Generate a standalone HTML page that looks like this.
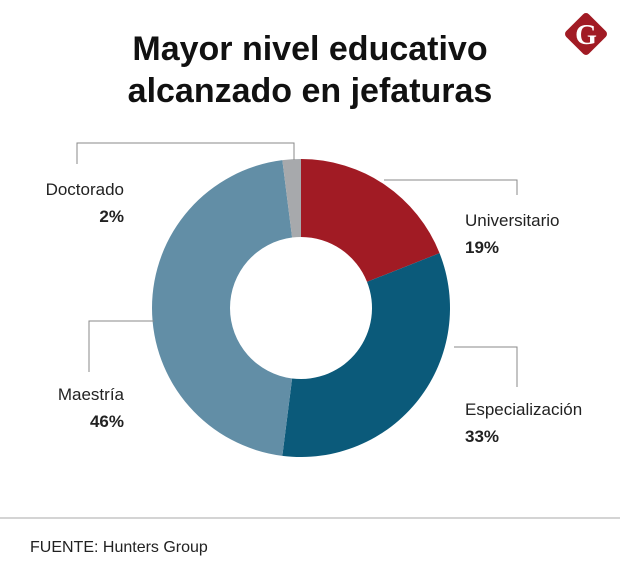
<!DOCTYPE html>
<html><head><meta charset="utf-8"><style>
body{margin:0;background:#fff;}
svg{display:block;font-family:"Liberation Sans",sans-serif;}
</style></head><body>
<svg id="chart" width="620" height="583" viewBox="0 0 620 583">
<text x="310" y="60" text-anchor="middle" font-size="34" font-weight="bold" fill="#111">Mayor nivel educativo</text>
<text x="310" y="102" text-anchor="middle" font-size="34" font-weight="bold" fill="#111">alcanzado en jefaturas</text>
<g>
<rect x="570" y="18" width="32" height="32" rx="4" transform="rotate(45 586 34)" fill="#a11b24"/>
<text x="586" y="44" text-anchor="middle" font-size="28" font-weight="bold" fill="#fff" font-family="Liberation Serif,serif">G</text>
</g>
<g id="slices"></g>
<g id="leaders" stroke="#888" stroke-width="1" fill="none"></g>
<g id="labels"></g>
<line x1="0" y1="518" x2="620" y2="518" stroke="#aaa"/>
<text x="30" y="552" font-size="16" fill="#222">FUENTE: Hunters Group</text>
</svg>
<script>
const categories = ["Universitario","Especialización","Maestría","Doctorado"];
const values = [19,33,46,2];
const labels = ["19%","33%","46%","2%"];
const colors = ["#a11b24","#0b5a7a","#628ea6","#a7a9ac"];
const NS="http://www.w3.org/2000/svg";
const cx=301, cy=308, R=149, r=71;
const total=values.reduce((a,b)=>a+b,0);
function pt(rad,a){return [cx+rad*Math.sin(a), cy-rad*Math.cos(a)];}
const gS=document.getElementById('slices');
let acc=0;
values.forEach((v,i)=>{
  const a0=acc/total*2*Math.PI; acc+=v; const a1=acc/total*2*Math.PI;
  const large=(a1-a0)>Math.PI?1:0;
  const [x0,y0]=pt(R,a0),[x1,y1]=pt(R,a1),[x2,y2]=pt(r,a1),[x3,y3]=pt(r,a0);
  const p=document.createElementNS(NS,'path');
  p.setAttribute('d',`M${x0},${y0}A${R},${R} 0 ${large} 1 ${x1},${y1}L${x2},${y2}A${r},${r} 0 ${large} 0 ${x3},${y3}Z`);
  p.setAttribute('fill',colors[i]);
  
  
  gS.appendChild(p);
});
const leaders=["M384,180H517V195","M454,347H517V387","M154,321H89V372","M294,160V143H77V164"];
const gL=document.getElementById('leaders');
leaders.forEach((d,i)=>{
  const p=document.createElementNS(NS,'path');p.setAttribute('d',d);
  
  
  gL.appendChild(p);
});
const pos=[[465,226,'start'],[465,415,'start'],[124,400,'end'],[124,195,'end']];
const gT=document.getElementById('labels');
categories.forEach((c,i)=>{
  const [x,y,anc]=pos[i];
  const t=document.createElementNS(NS,'text');
  t.setAttribute('x',x);t.setAttribute('y',y);t.setAttribute('text-anchor',anc);
  t.setAttribute('font-size','17');t.setAttribute('fill','#222');t.textContent=c;
  
  
  gT.appendChild(t);
  const t2=document.createElementNS(NS,'text');
  t2.setAttribute('x',x);t2.setAttribute('y',y+27);t2.setAttribute('text-anchor',anc);
  t2.setAttribute('font-size','17');t2.setAttribute('font-weight','bold');t2.setAttribute('fill','#222');t2.textContent=labels[i];
  
  
  gT.appendChild(t2);
});
</script>
</body></html>
